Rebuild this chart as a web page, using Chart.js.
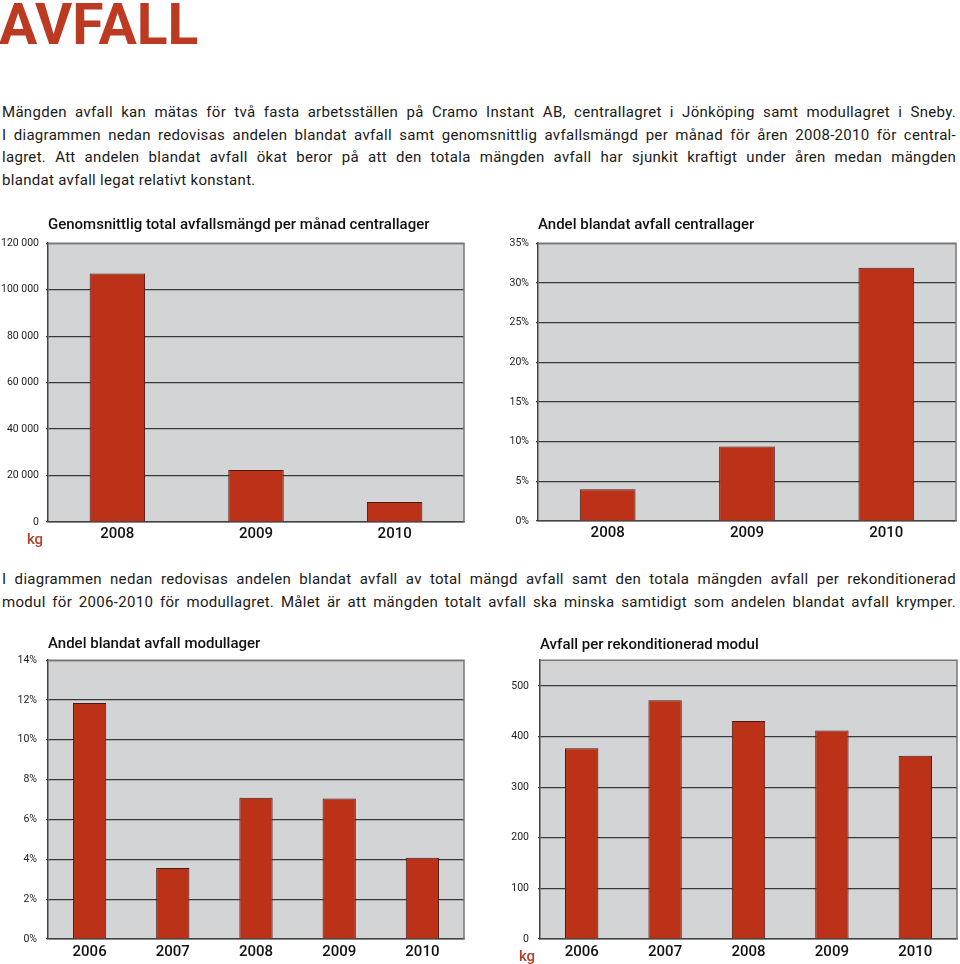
<!DOCTYPE html>
<html lang="sv">
<head>
<meta charset="utf-8">
<title>Avfall</title>
<script src="https://cdn.jsdelivr.net/npm/chart.js@4.4.1/dist/chart.umd.min.js"></script>
<style>
  html, body {
    margin: 0;
    padding: 0;
    background: #ffffff;
  }

  body {
    position: relative;
    width: 960px;
    height: 964px;
    overflow: hidden;
    font-family: Roboto, "Noto Sans", sans-serif;
    color: #1a1a1a;
  }

  .page-title {
    position: absolute;
    left: -1px;
    top: -4px;
    margin: 0;
    font-size: 57px;
    line-height: 57px;
    font-weight: 700;
    color: #bc3a22;
  }

  .intro {
    position: absolute;
    left: 2px;
    width: 954px;
    font-size: 15px;
    line-height: 22.6px;
    letter-spacing: 0.3px;
  }

  .intro div {
    white-space: nowrap;
    text-align: justify;
    text-align-last: justify;
  }

  .intro div.last {
    text-align-last: left;
  }

  canvas {
    position: absolute;
  }
</style>
</head>
<body>
  <h1 class="page-title">AVFALL</h1>

  <div class="intro" style="top: 101px;">
    <div>Mängden avfall kan mätas för två fasta arbetsställen på Cramo Instant AB, centrallagret i Jönköping samt modullagret i Sneby.</div>
    <div>I diagrammen nedan redovisas andelen blandat avfall samt genomsnittlig avfallsmängd per månad för åren 2008-2010 för central-</div>
    <div>lagret. Att andelen blandat avfall ökat beror på att den totala mängden avfall har sjunkit kraftigt under åren medan mängden</div>
    <div class="last">blandat avfall legat relativt konstant.</div>
  </div>

  <div class="intro" style="top: 568px;">
    <div>I diagrammen nedan redovisas andelen blandat avfall av total mängd avfall samt den totala mängden avfall per rekonditionerad</div>
    <div>modul för 2006-2010 för modullagret. Målet är att mängden totalt avfall ska minska samtidigt som andelen blandat avfall krymper.</div>
  </div>

  <canvas id="centralTotalChart" width="480" height="345" style="left: 0; top: 210px;"></canvas>
  <canvas id="centralShareChart" width="480" height="345" style="left: 480px; top: 210px;"></canvas>
  <canvas id="modulShareChart" width="480" height="334" style="left: 0; top: 630px;"></canvas>
  <canvas id="modulWasteChart" width="480" height="334" style="left: 480px; top: 630px;"></canvas>

<script>
/* Data */

const centralYears = ["2008", "2009", "2010"];
const centralTotalKg = [107000, 22400, 8600];
const centralTotalTicks = [0, 20000, 40000, 60000, 80000, 100000, 120000];

const centralMixedShare = [4.0, 9.4, 31.9];
const centralShareTicks = [0, 5, 10, 15, 20, 25, 30, 35];

const modulYears = ["2006", "2007", "2008", "2009", "2010"];
const modulMixedShare = [11.85, 3.56, 7.09, 7.06, 4.08];
const modulShareTicks = [0, 2, 4, 6, 8, 10, 12, 14];

const modulWastePerModule = [377, 472, 431, 412, 362];
const modulWasteTicks = [0, 100, 200, 300, 400, 500];

/* Styling */

const barRed = "#bb3219";
const barEdge = "#4a1a12";
const plotGray = "#d3d4d6";
const gridDark = "#3a3a3a";
const frameGray = "#777777";
const unitRed = "#b5402a";
const fontFamily = "Roboto, 'Noto Sans', sans-serif";

// gray plot background plus the lighter top/right frame
const plotFrame = {
  id: "plotFrame",
  beforeDraw(chart) {
    const area = chart.chartArea;
    const ctx = chart.ctx;
    ctx.save();
    ctx.fillStyle = plotGray;
    ctx.fillRect(area.left, area.top, area.right - area.left, area.bottom - area.top);
    ctx.restore();
  },
  beforeDatasetsDraw(chart) {
    const area = chart.chartArea;
    const ctx = chart.ctx;
    ctx.save();
    ctx.strokeStyle = frameGray;
    ctx.lineWidth = 1.5;
    ctx.beginPath();
    ctx.moveTo(area.left, area.top);
    ctx.lineTo(area.right, area.top);
    ctx.lineTo(area.right, area.bottom);
    ctx.stroke();
    ctx.restore();
  },
};

// small red "kg" under the zero tick
const unitLabel = {
  id: "unitLabel",
  afterDraw(chart, args, opts) {
    if (!opts || !opts.text) {
      return;
    }
    const area = chart.chartArea;
    const ctx = chart.ctx;
    ctx.save();
    ctx.fillStyle = unitRed;
    ctx.font = "500 15px " + fontFamily;
    ctx.textAlign = "center";
    ctx.textBaseline = "middle";
    ctx.fillText(opts.text, area.left - 13, area.bottom + 18);
    ctx.restore();
  },
};

function makeBarChart(canvasId, settings) {
  const canvas = document.getElementById(canvasId);

  if (!canvas || typeof Chart === "undefined") {
    return;
  }

  new Chart(canvas, {
    type: "bar",
    data: {
      labels: settings.labels,
      datasets: [
        {
          data: settings.values,
          backgroundColor: barRed,
          borderColor: barEdge,
          borderWidth: 1,
          barPercentage: 0.4,
          categoryPercentage: 1,
        },
      ],
    },
    plugins: [plotFrame, unitLabel],
    options: {
      responsive: false,
      animation: false,
      devicePixelRatio: 1,
      layout: {
        padding: {
          left: 0,
          right: settings.rightPad,
          top: 0,
          bottom: 0,
        },
      },
      plugins: {
        legend: {
          display: false,
        },
        tooltip: {
          enabled: false,
        },
        title: {
          display: true,
          text: settings.title,
          align: "start",
          fullSize: false,
          color: "#111111",
          font: {
            family: fontFamily,
            size: 15,
            weight: "500",
          },
          padding: {
            top: settings.titleTop,
            bottom: settings.titleBottom,
          },
        },
        unitLabel: {
          text: settings.unit,
        },
      },
      scales: {
        x: {
          grid: {
            display: false,
            drawTicks: false,
          },
          border: {
            display: true,
            color: "#444444",
            width: 1.5,
          },
          ticks: {
            color: "#111111",
            padding: settings.xPad,
            font: {
              family: fontFamily,
              size: 15,
              weight: "500",
            },
          },
          afterFit(scale) {
            scale.height = settings.xHeight;
          },
        },
        y: {
          min: 0,
          max: settings.max,
          afterBuildTicks(scale) {
            scale.ticks = settings.ticks.map((value) => ({ value: value }));
          },
          grid: {
            color: gridDark,
            lineWidth: 1.2,
            tickLength: 2,
          },
          border: {
            display: true,
            color: "#444444",
            width: 1.5,
          },
          ticks: {
            color: "#222222",
            padding: settings.yPad,
            font: {
              family: fontFamily,
              size: 10.5,
            },
            callback: settings.format,
          },
          afterFit(scale) {
            scale.width = settings.yWidth;
          },
        },
      },
    },
  });
}

function spacedThousands(value) {
  return String(value).replace(/\B(?=(\d{3})+(?!\d))/g, " ");
}

function percent(value) {
  return value + "%";
}

makeBarChart("centralTotalChart", {
  title: "Genomsnittlig total avfallsmängd per månad centrallager",
  labels: centralYears,
  values: centralTotalKg,
  ticks: centralTotalTicks,
  max: 120000,
  format: spacedThousands,
  unit: "kg",
  yWidth: 48,
  yPad: 7,
  rightPad: 16,
  titleTop: 6.2,
  titleBottom: 9,
  xHeight: 33,
  xPad: 3,
});

makeBarChart("centralShareChart", {
  title: "Andel blandat avfall centrallager",
  labels: centralYears,
  values: centralMixedShare,
  ticks: centralShareTicks,
  max: 35,
  format: percent,
  unit: "",
  yWidth: 58,
  yPad: 7,
  rightPad: 4,
  titleTop: 6.2,
  titleBottom: 9,
  xHeight: 34,
  xPad: 3,
});

makeBarChart("modulShareChart", {
  title: "Andel blandat avfall modullager",
  labels: modulYears,
  values: modulMixedShare,
  ticks: modulShareTicks,
  max: 14,
  format: percent,
  unit: "",
  yWidth: 48,
  yPad: 9,
  rightPad: 16,
  titleTop: 5.2,
  titleBottom: 7,
  xHeight: 25,
  xPad: 4,
});

makeBarChart("modulWasteChart", {
  title: "Avfall per rekonditionerad modul",
  labels: modulYears,
  values: modulWastePerModule,
  ticks: modulWasteTicks,
  max: 551,
  format: spacedThousands,
  unit: "kg",
  yWidth: 60,
  yPad: 9,
  rightPad: 3,
  titleTop: 6.2,
  titleBottom: 6,
  xHeight: 25,
  xPad: 4,
});
</script>
</body>
</html>
